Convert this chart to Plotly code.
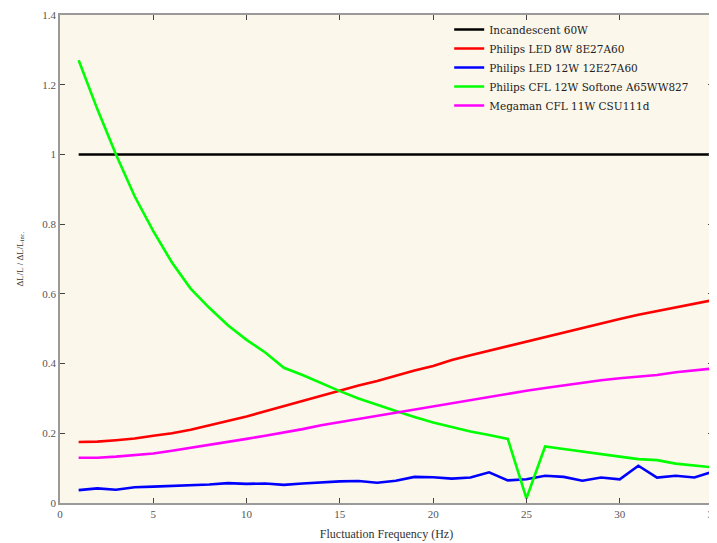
import plotly.graph_objects as go

freq = list(range(1, 36))
incandescent = [1.0] * 35
led_8w = [0.175, 0.176, 0.180, 0.185, 0.193, 0.200, 0.210, 0.222, 0.235, 0.248,
          0.263, 0.278, 0.294, 0.308, 0.322, 0.337, 0.350, 0.366, 0.380, 0.393,
          0.410, 0.424, 0.437, 0.450, 0.465, 0.478, 0.490, 0.503, 0.515, 0.528,
          0.540, 0.550, 0.561, 0.571, 0.582]
led_12w = [0.037, 0.042, 0.038, 0.045, 0.047, 0.049, 0.049, 0.053, 0.057, 0.055,
           0.056, 0.052, 0.056, 0.060, 0.062, 0.063, 0.058, 0.064, 0.075, 0.074,
           0.070, 0.073, 0.088, 0.065, 0.068, 0.078, 0.075, 0.064, 0.073, 0.068,
           0.107, 0.073, 0.078, 0.073, 0.090]
cfl_softone = [1.27, 1.13, 1.00, 0.88, 0.78, 0.69, 0.615, 0.56, 0.51, 0.468,
               0.432, 0.388, 0.367, 0.343, 0.321, 0.300, 0.281, 0.264, 0.247, 0.231,
               0.218, 0.205, 0.195, 0.184, 0.013, 0.162, 0.155, 0.147, 0.139, 0.133,
               0.126, 0.123, 0.113, 0.108, 0.102]
cfl_megaman = [0.130, 0.130, 0.133, 0.137, 0.142, 0.150, 0.158, 0.166, 0.175, 0.184,
               0.193, 0.202, 0.212, 0.223, 0.232, 0.242, 0.251, 0.260, 0.270, 0.279,
               0.288, 0.297, 0.306, 0.314, 0.322, 0.330, 0.338, 0.345, 0.352, 0.358,
               0.363, 0.367, 0.375, 0.380, 0.386]

series = [
    ("Incandescent 60W", incandescent, "#000000"),
    ("Philips LED 8W 8E27A60", led_8w, "#FF0000"),
    ("Philips LED 12W 12E27A60", led_12w, "#0000FF"),
    ("Philips CFL 12W Softone A65WW827", cfl_softone, "#00FF00"),
    ("Megaman CFL 11W CSU111d", cfl_megaman, "#FF00FF"),
]

x_ticks = [0, 5, 10, 15, 20, 25, 30, 35]
y_ticks = [0, 0.2, 0.4, 0.6, 0.8, 1.0, 1.2, 1.4]
y_tick_text = ["0", "0.2", "0.4", "0.6", "0.8", "1", "1.2", "1.4"]

serif = "Liberation Serif, DejaVu Serif, serif"
wide_serif = "DejaVu Serif, Liberation Serif, serif"

fig = go.Figure()
for name, vals, color in series:
    fig.add_trace(go.Scatter(x=freq, y=vals, mode="lines", name=name,
                             line=dict(color=color, width=2.6)))

axis_common = dict(showgrid=False, zeroline=False, showline=True, linecolor="#9a9a9a",
                   linewidth=1.5, mirror="allticks", ticks="inside", ticklen=5,
                   tickcolor="#444444", tickwidth=1, automargin=False,
                   tickfont=dict(family=serif, size=11, color="#555555"))

fig.update_xaxes(range=[0, 35], tickvals=x_ticks,
                 title=dict(text="Fluctuation Frequency (Hz)",
                            font=dict(family=serif, size=12, color="#333333"),
                            standoff=11),
                 **axis_common)
fig.update_yaxes(range=[0, 1.4], tickvals=y_ticks, ticktext=y_tick_text, **axis_common)

fig.add_annotation(text="ΔL/L / ΔL/L<sub>inc.</sub>", xref="paper", yref="paper",
                   x=-0.062, y=0.5, xanchor="center", yanchor="middle", textangle=-90,
                   showarrow=False, font=dict(family=serif, size=9, color="#333333"))

fig.update_layout(
    width=717, height=543,
    margin=dict(l=52, r=12, t=7, b=48),
    paper_bgcolor="white", plot_bgcolor="#FBF7EB",
    showlegend=True,
    legend=dict(x=0.596, y=1.0, xanchor="left", yanchor="top",
                bgcolor="rgba(0,0,0,0)", borderwidth=0,
                font=dict(family=wide_serif, size=10.5, color="#222222"),
                tracegroupgap=0, itemwidth=30),
)

fig.write_html("out.html")
